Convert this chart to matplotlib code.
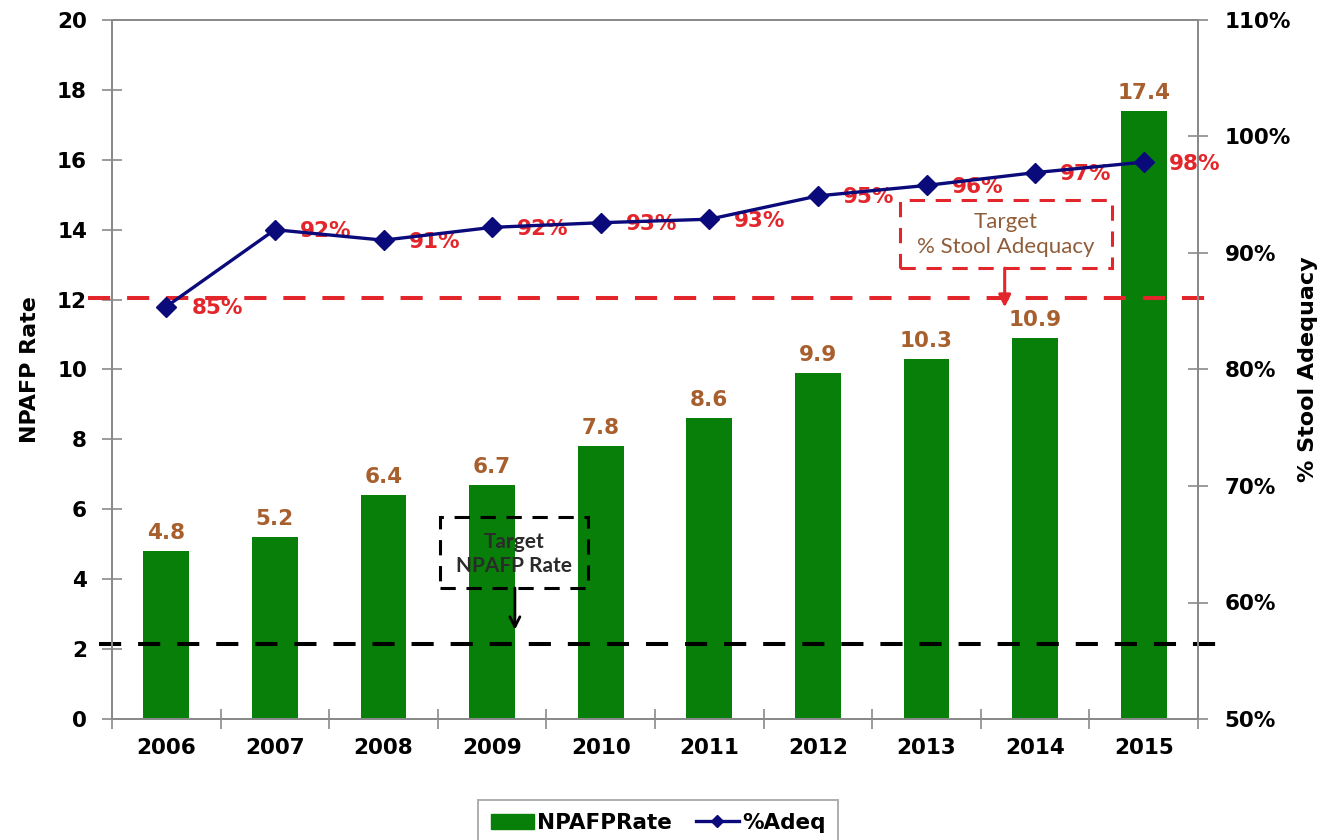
import numpy as np
import matplotlib
matplotlib.use("Agg")
import matplotlib.pyplot as plt
from matplotlib.patches import Rectangle, Patch
from matplotlib.lines import Line2D
from matplotlib.ticker import FuncFormatter

plt.rcParams['font.family'] = ['DejaVu Sans']
plt.rcParams['font.weight'] = 'bold'
plt.rcParams['axes.labelweight'] = 'bold'

# --- data -------------------------------------------------------------
years = ['2006', '2007', '2008', '2009', '2010',
         '2011', '2012', '2013', '2014', '2015']
npafp_rate = [4.8, 5.2, 6.4, 6.7, 7.8, 8.6, 9.9, 10.3, 10.9, 17.4]
stool_adeq = [85.4, 92.0, 91.1, 92.2, 92.6, 92.9, 94.9, 95.8, 96.9, 97.8]

# target reference lines, in NPAFP-rate axis units
target_adeq_line = 12.06
target_npafp_line = 2.15

left_ticks = list(range(0, 21, 2))
right_ticks = list(range(50, 111, 10))

# --- styling ----------------------------------------------------------
GREEN = '#087f08'
NAVY = '#0a0a7a'
RED = '#e3262b'
BROWN = '#a85f2e'
SPINE = '#8a8a8a'
FS = 15.5

fig = plt.figure(figsize=(13.35, 8.4), dpi=100)
ax = fig.add_axes([112 / 1335, 121 / 840, 1086 / 1335, 699 / 840])
ax2 = ax.twinx()

x = np.arange(len(years))
bars = ax.bar(x, npafp_rate, width=0.42, color=GREEN, zorder=2)
for xi, v in zip(x, npafp_rate):
    ax.annotate(f'{v:.1f}', (xi, v), xytext=(0, 6), textcoords='offset points',
                ha='center', va='bottom', color=BROWN, fontsize=FS, fontweight='bold')

ax.set_xlim(-0.5, len(years) - 0.5)
ax.set_ylim(0, 20)
ax.set_yticks(left_ticks)
ax.set_xticks(x)
ax.set_xticklabels(years)
ax.set_xticks(np.arange(-0.5, len(years), 1.0), minor=True)

ax2.set_ylim(50, 110)
ax2.set_yticks(right_ticks)
ax2.yaxis.set_major_formatter(FuncFormatter(lambda v, p: f'{v:.0f}%'))

for a in (ax, ax2):
    for s in a.spines.values():
        s.set_color(SPINE)
        s.set_linewidth(1.4)

ax.tick_params(axis='y', direction='inout', length=14, width=1.2, color=SPINE,
               pad=11, labelsize=FS)
ax.tick_params(axis='x', which='major', length=0, pad=14, labelsize=FS)
ax.tick_params(axis='x', which='minor', direction='inout', length=14, width=1.2,
               color=SPINE)
ax2.tick_params(axis='y', direction='inout', length=14, width=1.2, color=SPINE,
                pad=12, labelsize=FS)

ax.set_ylabel('NPAFP Rate', fontsize=16, fontweight='bold')
ax.yaxis.set_label_coords(-0.066, 0.5)
ax2.set_ylabel('% Stool Adequacy', fontsize=16, fontweight='bold', rotation=90)
ax2.yaxis.set_label_coords(1.092, 0.5)

# target reference lines
ax.plot([-0.72, 9.62], [target_adeq_line] * 2, color=RED, lw=2.9,
        dashes=(5.5, 4.2), clip_on=False, zorder=3)
ax.plot([-0.62, 9.68], [target_npafp_line] * 2, color='black', lw=2.9,
        dashes=(5.5, 4.2), clip_on=False, zorder=3)

# target call-out boxes
ax.add_patch(Rectangle((6.756, 12.90), 1.952, 1.95, fill=False, edgecolor=RED,
                       lw=2.2, linestyle=(0, (5, 3.5)), zorder=4))
ax.text(7.73, 13.86, 'Target\n% Stool Adequacy', ha='center', va='center',
        family='Lato', fontweight='normal', fontsize=16, color='#8f5d3a',
        linespacing=1.3, zorder=4)
ax.annotate('', xy=(7.72, 11.78), xytext=(7.72, 12.90),
            arrowprops=dict(arrowstyle='-|>', color=RED, lw=2.2,
                            mutation_scale=18, shrinkA=0, shrinkB=0), zorder=4)

ax.add_patch(Rectangle((2.52, 3.75), 1.36, 2.03, fill=False, edgecolor='black',
                       lw=2.2, linestyle=(0, (5, 3.5)), zorder=4))
ax.text(3.2, 4.72, 'Target\nNPAFP Rate', ha='center', va='center',
        family='Lato', fontweight='bold', fontsize=15, color='#2b2b2b',
        linespacing=1.2, zorder=4)
ax.annotate('', xy=(3.21, 2.55), xytext=(3.21, 3.75),
            arrowprops=dict(arrowstyle='->', color='black', lw=2.0,
                            mutation_scale=18, shrinkA=0, shrinkB=0), zorder=4)

# stool adequacy line
ax2.plot(x, stool_adeq, color=NAVY, lw=2.4, marker='D', markersize=10,
         zorder=5)
for xi, v in zip(x, stool_adeq):
    ax2.annotate(f'{v:.0f}%', (xi, v), xytext=(18, -1), textcoords='offset points',
                 ha='left', va='center', color=RED, fontsize=FS,
                 fontweight='bold', zorder=4)

handles = [Patch(facecolor=GREEN, edgecolor=GREEN),
           Line2D([], [], color=NAVY, lw=2.4, marker='D', markersize=6)]
leg = fig.legend(handles, ['NPAFPRate', '%Adeq'], loc='upper center',
                 bbox_to_anchor=(0.493, 0.048), ncol=2, frameon=True,
                 fancybox=False, edgecolor='#999999',
                 prop={'size': FS, 'weight': 'bold'}, handlelength=2.0,
                 handletextpad=0.15, columnspacing=1.1, borderpad=0.6,
                 borderaxespad=0)
leg.get_frame().set_linewidth(1.4)

fig.savefig('out.png', dpi=100)
